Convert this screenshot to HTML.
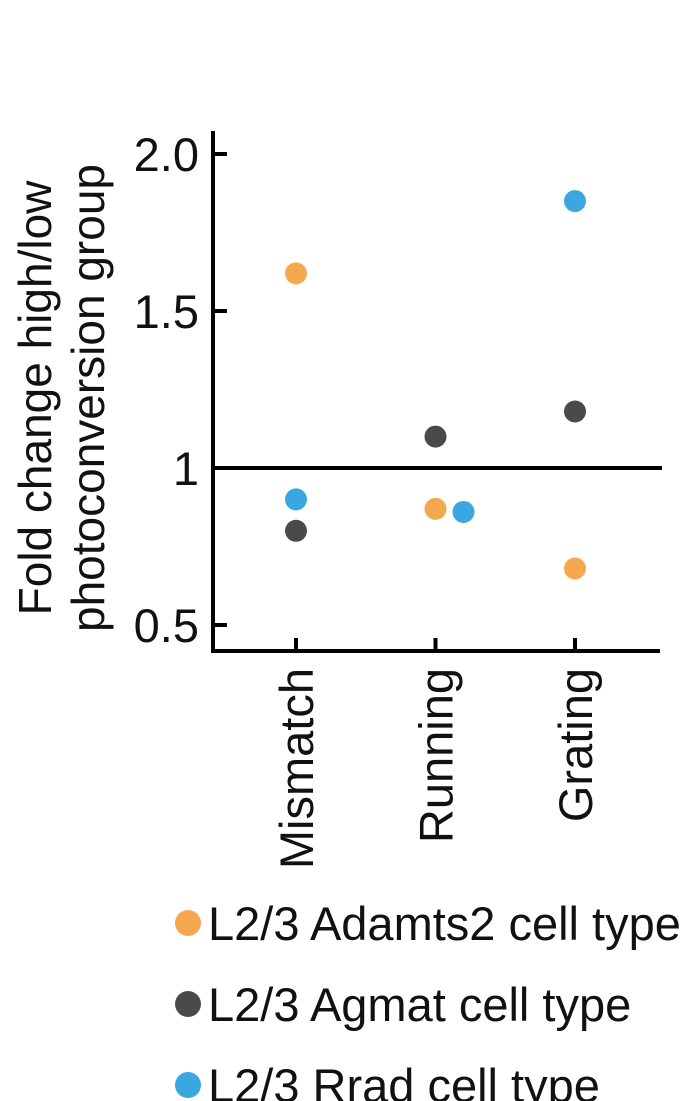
<!DOCTYPE html>
<html><head><meta charset="utf-8">
<style>
html,body{margin:0;padding:0;background:#fff;overflow:hidden;}
svg{display:block;font-family:"Liberation Sans",Arial,sans-serif;}
</style></head>
<body>
<svg id="chart" width="682" height="1101" viewBox="0 0 682 1101">
</svg>
<script>
const categories = ["Mismatch","Running","Grating"];
const seriesNames = ["L2/3 Adamts2 cell type","L2/3 Agmat cell type","L2/3 Rrad cell type"];
const adamts2 = [1.62, 0.87, 0.68];
const agmat = [0.80, 1.10, 1.18];
const rrad = [0.90, 0.86, 1.85];
const yTicks = [0.5, 1, 1.5, 2.0];
const yTickLabels = ["0.5","1","1.5","2.0"];
const refValue = 1;

const colors = ["#F5A94E","#4A4A4A","#3AA7E0"];
const jitter = [[0,0,0],[0,0,0],[0,28,0]];
const NS = "http://www.w3.org/2000/svg";
const svg = document.getElementById("chart");
const yScale = v => 468 - (v - 1) * 314;
const xScale = i => 296 + i * 139.5;
const FS = 47;
function mk(tag, attrs, parent){
  const e = document.createElementNS(NS, tag);
  for (const k in attrs) e.setAttribute(k, attrs[k]);
  (parent||svg).appendChild(e);
  return e;
}
let e = mk("line",{x1:213,y1:131,x2:213,y2:653,stroke:"#000","stroke-width":4});


e = mk("line",{x1:211,y1:651,x2:660,y2:651,stroke:"#000","stroke-width":4});


e = mk("line",{x1:213,y1:yScale(refValue),x2:662,y2:yScale(refValue),stroke:"#000","stroke-width":4});


yTicks.forEach((v,i)=>{
  const y = yScale(v);
  let t = mk("line",{x1:213,y1:y,x2:227,y2:y,stroke:"#000","stroke-width":4});
  
  
  let l = mk("text",{x:199,y:y+17,"text-anchor":"end","font-size":FS,fill:"#111"});
  l.textContent = yTickLabels[i];
  
  
});
categories.forEach((c,i)=>{
  const x = xScale(i);
  let t = mk("line",{x1:x,y1:638,x2:x,y2:651,stroke:"#000","stroke-width":4});
  
  
  let l = mk("text",{x:0,y:0,"text-anchor":"end","font-size":FS,fill:"#111",transform:`translate(${x+17},668) rotate(-90)`});
  l.textContent = c;
  
  
});
let t1 = mk("text",{x:0,y:0,"text-anchor":"middle","font-size":FS-1,fill:"#111",transform:"translate(51,398) rotate(-90)"});
t1.textContent = "Fold change high/low";


let t2 = mk("text",{x:0,y:0,"text-anchor":"middle","font-size":FS-1,fill:"#111",transform:"translate(104,398) rotate(-90)"});
t2.textContent = "photoconversion group";


[adamts2, agmat, rrad].forEach((s,si)=>{
  s.forEach((v,i)=>{
    let c = mk("circle",{cx:xScale(i)+jitter[si][i],cy:yScale(v),r:11,fill:colors[si]});
    
    
  });
});
seriesNames.forEach((n,i)=>{
  const y = 923 + i*81;
  let c = mk("circle",{cx:188,cy:y,r:13,fill:colors[i]});
  
  
  let l = mk("text",{x:208,y:y+17,"font-size":FS,fill:"#111"});
  l.textContent = n;
  
  
});
</script>
</body></html>
